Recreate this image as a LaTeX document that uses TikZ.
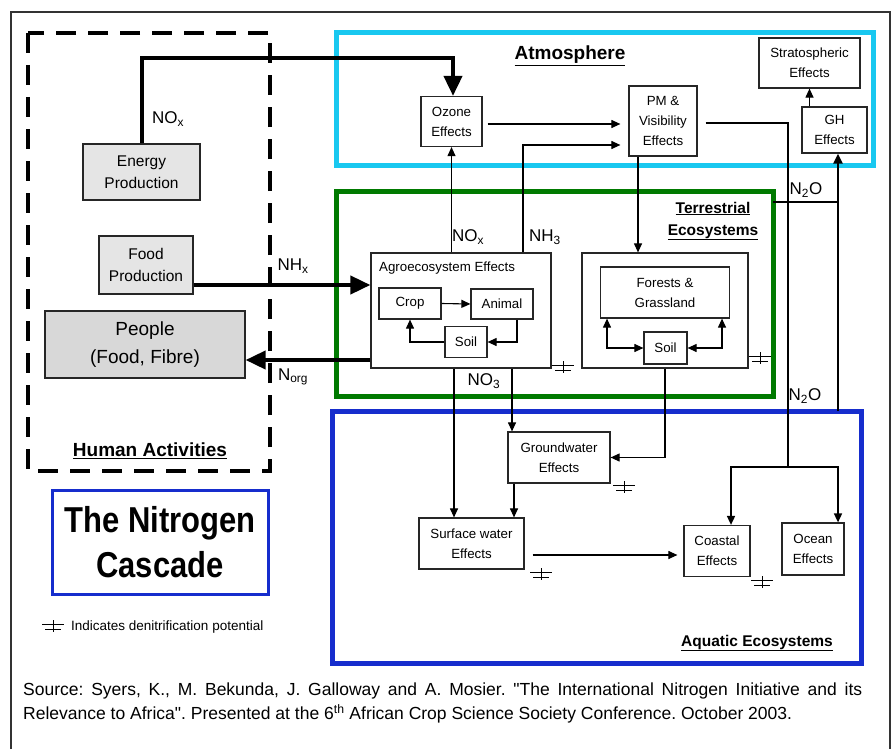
\documentclass[tikz,border=0pt]{standalone}
\usepackage{fontspec}
\setmainfont{Liberation Sans}
\newfontfamily\narrowfont{Liberation Sans}[FakeStretch=0.86]
\usetikzlibrary{arrows.meta}
\frenchspacing

\definecolor{atmocyan}{RGB}{25,200,240}
\definecolor{terrgreen}{RGB}{0,122,0}
\definecolor{aquablue}{RGB}{22,45,205}
\definecolor{boxgray}{RGB}{229,229,229}
\definecolor{peoplegray}{RGB}{216,216,216}

\tikzset{
  box/.style={draw=black!85, line width=1.2pt, inner sep=0pt, align=center,
    font=\fontsize{13.3}{20}\selectfont},
  graybox/.style={box, fill=boxgray, font=\fontsize{15.5}{22}\selectfont},
  arr/.style={line width=1.1pt, -{Triangle[length=9pt,width=8pt]}},
  dblarr/.style={line width=1.1pt, {Triangle[length=9pt,width=8pt]}-{Triangle[length=9pt,width=8pt]}},
  bigarr/.style={line width=4pt, -{Triangle[length=20pt,width=18pt]}},
  lbl/.style={inner sep=0pt, font=\fontsize{17}{20}\selectfont},
  hdr/.style={inner sep=0pt, align=center, font=\bfseries\fontsize{15.5}{22}\selectfont},
  denit/.pic={
    \draw[line width=1pt] (0,-6) -- (0,6);
    \draw[line width=1pt] (-11,-2) -- (11,-2);
    \draw[line width=1pt] (-8,3) -- (8,3);
  }
}

\begin{document}
\begin{tikzpicture}[x=1pt,y=-1pt]
\useasboundingbox (0,0) rectangle (893,749);

% frame and regions
\draw[line width=1.3pt, black!80] (11,749) -- (11,12) -- (890,12) -- (890,749);
\draw[line width=3.5pt, dash pattern=on 20pt off 12pt] (28,33) rectangle (270,471);
\draw[atmocyan, line width=5pt] (336,33) rectangle (873,165);
\draw[terrgreen, line width=5pt] (336,191) rectangle (773,396);
\draw[aquablue, line width=5pt] (332,411) rectangle (861,663);

% headings
\node[hdr, font=\bfseries\fontsize{19}{22}\selectfont] (atmo) at (570,56) {\underline{Atmosphere}};
\node[hdr] (terr) at (713,221) {\underline{Terrestrial}\\\underline{Ecosystems}};
\node[hdr] (aqua) at (757,643) {\underline{Aquatic Ecosystems}};
\node[hdr, font=\bfseries\fontsize{19}{22}\selectfont] (human) at (150,451) {\underline{Human Activities}};

% human activities
\node[graybox, minimum width=117pt, minimum height=56pt] (energy) at (141.5,172) {Energy\\Production};
\node[graybox, minimum width=94pt, minimum height=58pt] (food) at (146,265) {Food\\Production};
\node[box, fill=peoplegray, minimum width=200pt, minimum height=67pt,
  font=\fontsize{19}{28}\selectfont] (people) at (145,344.5) {People\\(Food, Fibre)};

% atmosphere
\node[box, minimum width=61pt, minimum height=50pt] (ozone) at (451.5,121.5) {Ozone\\Effects};
\node[box, minimum width=68pt, minimum height=70pt] (pm) at (663,121) {PM \&\\Visibility\\Effects};
\node[box, minimum width=101pt, minimum height=50pt] (strat) at (809.5,63) {Stratospheric\\Effects};
\node[box, minimum width=65pt, minimum height=46pt] (gh) at (834.5,130) {GH\\Effects};

% terrestrial
\node[box, minimum width=180pt, minimum height=115pt] (agro) at (461,310.5) {};
\node[anchor=west, inner sep=0pt, font=\fontsize{13.3}{16}\selectfont] (agrolbl) at (379,268) {Agroecosystem Effects};
\node[box, minimum width=62pt, minimum height=31pt] (crop) at (410,303.5) {Crop};
\node[box, minimum width=62pt, minimum height=30pt] (animal) at (502,304) {Animal};
\node[box, minimum width=42pt, minimum height=31pt] (soilA) at (466,342) {Soil};
\node[box, minimum width=166pt, minimum height=115pt] (forest) at (665,310.5) {};
\node[box, minimum width=129pt, minimum height=51pt] (fg) at (665,292.5) {Forests \&\\Grassland};
\node[box, minimum width=43pt, minimum height=32pt] (soilF) at (665.5,348) {Soil};

% aquatic
\node[box, minimum width=102pt, minimum height=51pt] (ground) at (559,457.5) {Groundwater\\Effects};
\node[box, minimum width=105pt, minimum height=51pt] (surface) at (471.5,543.5) {Surface water\\Effects};
\node[box, minimum width=66pt, minimum height=51pt] (coastal) at (717,551) {Coastal\\Effects};
\node[box, minimum width=62pt, minimum height=52pt] (ocean) at (813,549) {Ocean\\Effects};

% title and legend
\node[draw=aquablue, line width=3pt, minimum width=216pt, minimum height=104pt, inner sep=0pt,
  align=center, font=\narrowfont\bfseries\fontsize{36}{45}\selectfont] (cascade) at (160,542) {The Nitrogen\\Cascade};
\pic at (53,626) {denit};
\node[anchor=west, inner sep=0pt, font=\fontsize{13.5}{16}\selectfont] (legend) at (71,627) {Indicates denitrification potential};

% helper points
\coordinate (noxbend) at (453,58);
\coordinate (nhx) at (0,285);
\coordinate (norg) at (0,360);
\coordinate (ozpm) at (0,124);
\coordinate (nh3) at (523,145);
\coordinate (pmdown) at (638,0);
\coordinate (pmout) at (0,123);
\coordinate (split) at (788,467);
\coordinate (coastin) at (731,0);
\coordinate (oceanin) at (838,0);
\coordinate (ghfoot) at (838,411);
\coordinate (terrn2o) at (773,202);
\coordinate (anx) at (517,0);
\coordinate (fl) at (607,0);
\coordinate (fr) at (722,0);
\coordinate (no3l) at (454,0);
\coordinate (no3r) at (512,0);
\coordinate (gws) at (514,0);
\coordinate (swc) at (0,555);

% thick flows
\draw[bigarr] (energy.north) |- (noxbend) -- (ozone.north -| noxbend);
\draw[bigarr] (food.east |- nhx) -- (agro.west |- nhx);
\draw[bigarr] (agro.west |- norg) -- (people.east |- norg);

% atmosphere flows
\draw[arr, shorten <=5pt, shorten >=8pt] (ozone.east |- ozpm) -- (pm.west |- ozpm);
\draw[arr, shorten >=8pt] (agro.north -| nh3) |- (pm.west |- nh3);
\draw[arr] (agro.north -| ozone.south) -- (ozone.south);
\draw[arr] (pm.south -| pmdown) -- (forest.north -| pmdown);
\draw[arr] (gh.north -| strat.south) -- (strat.south);
\draw[line width=1.6pt, shorten <=8pt] (pm.east |- pmout) -| (split);
\draw[arr, line width=1.6pt] (split) -| (coastal.north -| coastin);
\draw[arr, line width=1.6pt] (split) -| (ocean.north -| oceanin);
\draw[line width=2.4pt, -{Triangle[length=10pt,width=9pt]}] (ghfoot) -- (gh.south -| ghfoot);
\draw[line width=2.4pt] (terrn2o) -- (ghfoot |- terrn2o);

% agroecosystem cycle
\draw[arr] (crop.east) -- (animal.west);
\draw[arr] (animal.south -| anx) |- (soilA.east);
\draw[arr] (soilA.west) -| (crop.south);

% forests and grassland
\draw[dblarr] (fg.south -| fl) |- (soilF.west);
\draw[dblarr] (fg.south -| fr) |- (soilF.east);

% water flows
\draw[arr] (forest.south) |- (ground.east);
\draw[arr] (agro.south -| no3l) -- (surface.north -| no3l);
\draw[arr] (agro.south -| no3r) -- (ground.north -| no3r);
\draw[arr] (ground.south -| gws) -- (surface.north -| gws);
\draw[arr, shorten <=8pt, shorten >=6pt] (surface.east |- swc) -- (coastal.west |- swc);

% flow labels
\node[lbl] (lnox) at (168,119) {NO\textsubscript{x}};
\node[lbl] (lnhx) at (293,266) {NH\textsubscript{x}};
\node[lbl] (lnorg) at (293,377) {N\textsubscript{org}};
\node[lbl] (lnoxb) at (468,237) {NO\textsubscript{x}};
\node[lbl] (lnh3) at (545,237) {NH\textsubscript{3}};
\node[lbl] (lno3) at (484,381) {NO\textsubscript{3}};
\node[lbl] (ln2oa) at (806,190) {N\textsubscript{2}O};
\node[lbl] (ln2ob) at (805,396) {N\textsubscript{2}O};

% denitrification marks
\pic at (563,367) {denit};
\pic at (760,358) {denit};
\pic at (624,487) {denit};
\pic at (541,574) {denit};
\pic at (762,582) {denit};

% source
\node[anchor=north west, inner sep=0pt, text width=839pt, align=justify,
  font=\fontsize{17.5}{24}\selectfont] (source) at (23,683)
  {Source: Syers, K., M. Bekunda, J. Galloway and A. Mosier. \textquotedbl The International Nitrogen Initiative and its\linebreak
   Relevance to Africa\textquotedbl. Presented at the 6\textsuperscript{th} African Crop Science Society Conference. October 2003.};
\end{tikzpicture}
\end{document}
